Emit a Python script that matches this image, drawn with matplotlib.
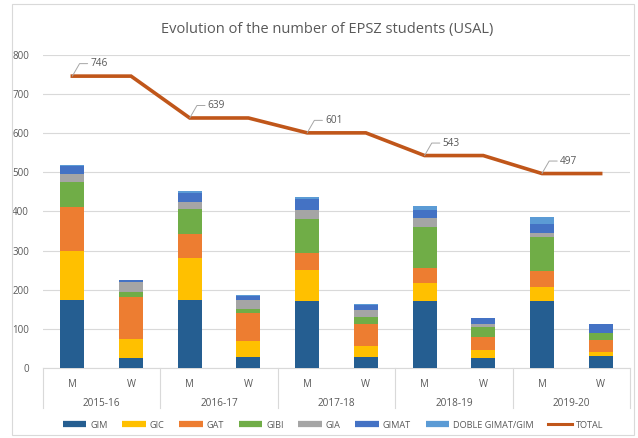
import matplotlib
matplotlib.use("Agg")
import matplotlib.pyplot as plt
import matplotlib.transforms as mtransforms
from matplotlib.patches import Rectangle
import numpy as np

years = ["2015-16", "2016-17", "2017-18", "2018-19", "2019-20"]
genders = ["M", "W"]

# values for M, W of each year (10 bars)
GIM   = [174, 25, 174, 27, 171, 29, 170, 26, 170, 31]
GIC   = [125, 50, 106, 43,  80, 28,  46, 20,  38, 11]
GAT   = [113, 106, 62, 70,  44, 55,  39, 34,  40, 30]
GIBI  = [ 64, 13,  64, 12,  85, 19, 106, 26,  88, 18]
GIA   = [ 19, 26,  19, 22,  24, 17,  22,  6,   8,  0]
GIMAT = [ 21,  6,  22, 10,  27, 13,  21, 16,  24, 22]
DOBLE = [  4,  0,   6,  2,   7,  2,  11,  0,  17,  0]
TOTAL = [746, 639, 601, 543, 497]

series = [
    ("GIM", GIM, "#255E91"),
    ("GIC", GIC, "#FFC000"),
    ("GAT", GAT, "#ED7D31"),
    ("GIBI", GIBI, "#70AD47"),
    ("GIA", GIA, "#A5A5A5"),
    ("GIMAT", GIMAT, "#4472C4"),
    ("DOBLE GIMAT/GIM", DOBLE, "#5B9BD5"),
]
line_color = "#C0561A"
text_color = "#595959"

plt.rcParams['font.family'] = ['Open Sans', 'DejaVu Sans']

fig = plt.figure(figsize=(6.38, 4.38), dpi=100)
ax = fig.add_axes([43/638, 1-368/438, (630-43)/638, (368-55)/438])

n = len(years) * len(genders)
x = np.arange(n)
bottom = np.zeros(n)
handles = []
for name, vals, col in series:
    ax.bar(x, vals, bottom=bottom, width=0.41, color=col, label=name, zorder=3)
    bottom += np.array(vals)
    handles.append(plt.Line2D([], [], color=col, lw=4.5, solid_capstyle='butt'))

total_y = [t for t in TOTAL for _ in genders]
ax.plot(x, total_y, color=line_color, lw=2.6, zorder=4, solid_joinstyle='miter')
handles.append(plt.Line2D([], [], color=line_color, lw=2.2))

for i, t in enumerate(TOTAL):
    xi = i * 2
    ax.annotate(str(t), xy=(xi, t), xytext=(13, 9), textcoords='offset points',
                fontsize=7.2, color=text_color, va='center', ha='left',
                arrowprops=dict(arrowstyle='-', color='#A6A6A6', lw=0.7,
                                shrinkA=0, shrinkB=0,
                                connectionstyle='angle,angleA=0,angleB=60,rad=0'),
                zorder=5)

ax.set_xlim(-0.5, n - 0.5)
ax.set_ylim(0, 800)
ax.set_yticks(range(0, 801, 100))
ax.yaxis.grid(True, color='#D9D9D9', lw=0.8, zorder=0)
ax.set_axisbelow(True)
for s in ['top', 'right', 'left']:
    ax.spines[s].set_visible(False)
ax.spines['bottom'].set_color('#D9D9D9')
ax.tick_params(axis='y', length=0, labelsize=7, labelcolor=text_color, pad=10)
ax.set_xticks(x)
ax.set_xticklabels(genders * len(years))
ax.tick_params(axis='x', length=0, labelsize=7, labelcolor=text_color, pad=8)

trans = mtransforms.blended_transform_factory(ax.transData, ax.transAxes)
for k in range(len(years) + 1):
    xe = k * 2 - 0.5
    ax.plot([xe, xe], [0, -0.128], transform=trans, color='#D9D9D9', lw=0.8, clip_on=False)
for k, yr in enumerate(years):
    ax.text(k * 2 + 0.5, -0.112, yr, transform=trans, ha='center', va='center',
            fontsize=7.2, color=text_color)

fig.text(327/638, 1-30/438, "Evolution of the number of EPSZ students (USAL)",
         ha='center', va='center', fontsize=10.5, color=text_color)

labels = [s[0] for s in series] + ["TOTAL"]
fig.legend(handles, labels, loc='center', bbox_to_anchor=(333/638, 1-425/438), ncol=8,
           frameon=False, fontsize=6.6, handlelength=2.6, handletextpad=0.4,
           columnspacing=1.6, labelcolor=text_color)

fig.patches.append(Rectangle((12/638, 3/438), (634-12)/638, (434-3)/438, transform=fig.transFigure,
                             fill=False, edgecolor='#D9D9D9', lw=0.8))

fig.savefig("out.png", dpi=100)
